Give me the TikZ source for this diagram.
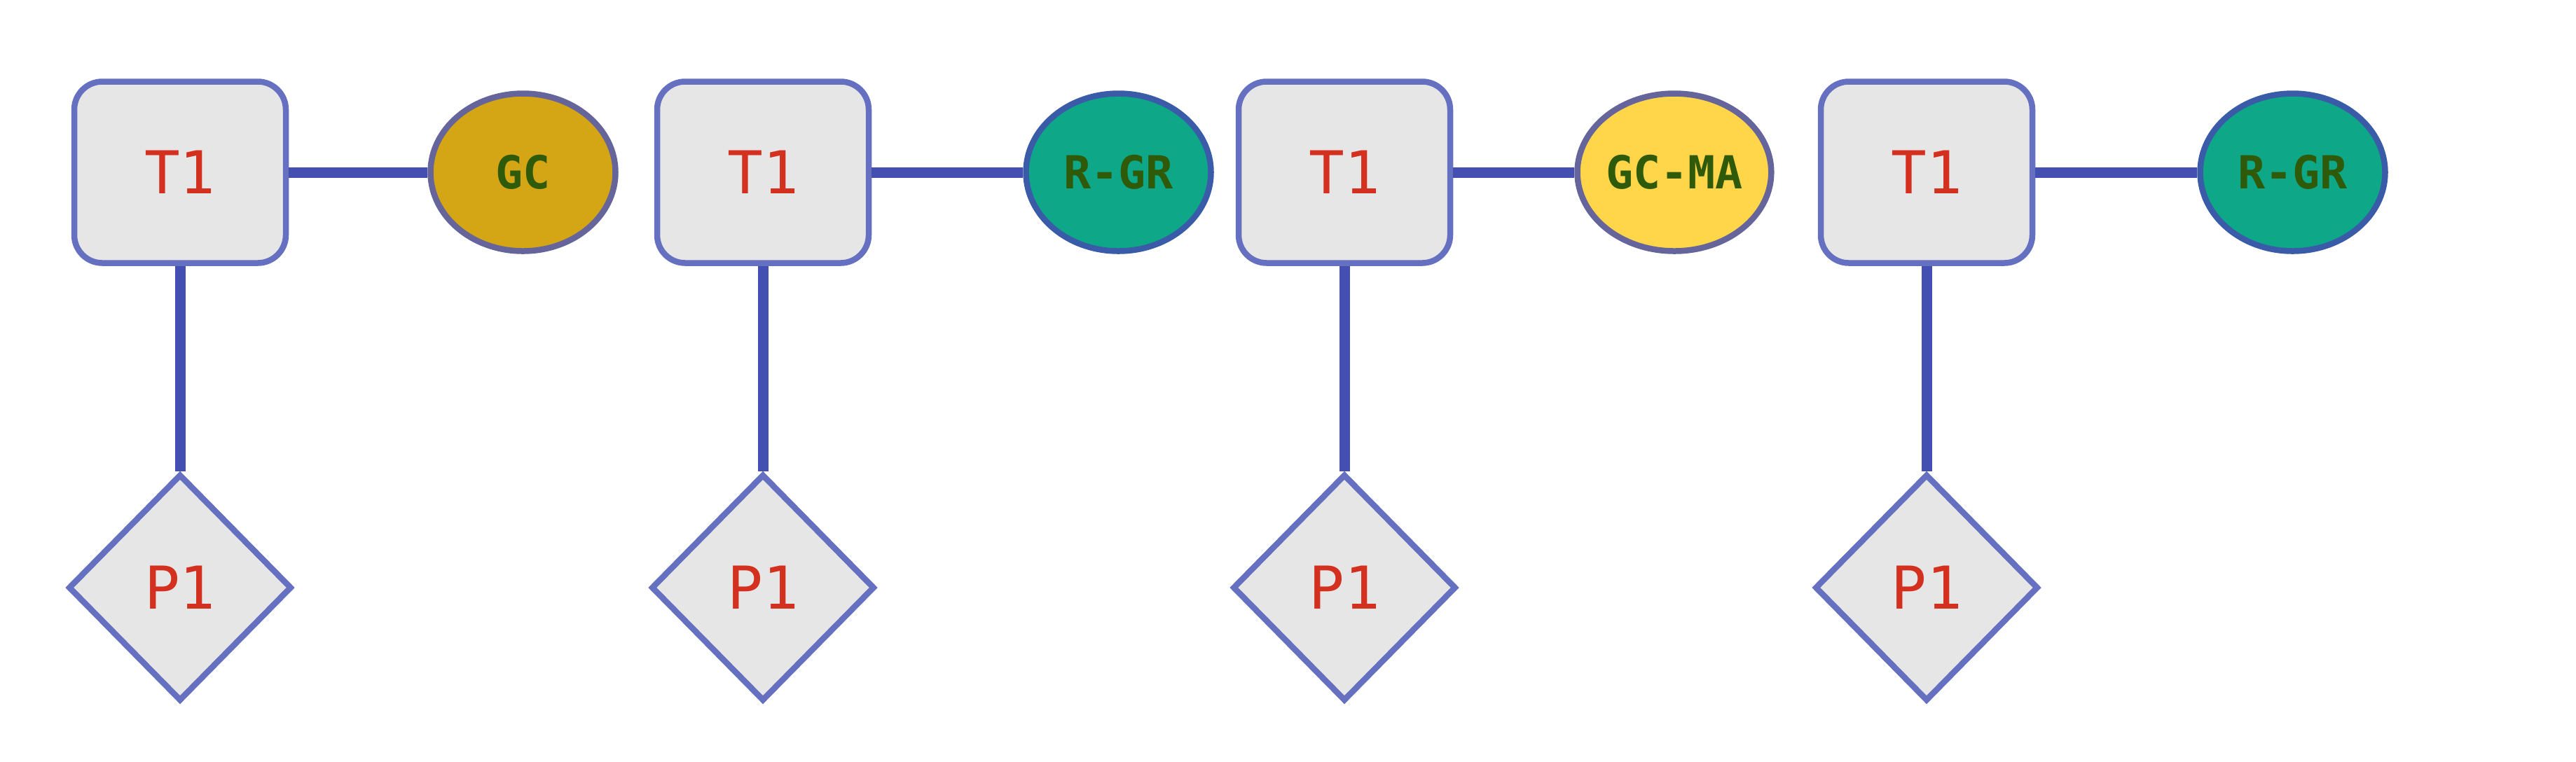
\documentclass[tikz,border=0pt]{standalone}
\usepackage{fontspec}
\usepackage{tikz}
\usetikzlibrary{positioning, shapes.geometric}
\newfontfamily\boxfont{DejaVu Sans Mono}
\newfontfamily\tagfont{DejaVu Sans Mono Bold}
\definecolor{boxfill}{HTML}{E6E6E6}
\definecolor{boxline}{HTML}{6570C0}
\definecolor{wire}{HTML}{4350B2}
\definecolor{redtxt}{HTML}{D33020}
\definecolor{greentxt}{HTML}{2E5A0A}
\definecolor{gold}{HTML}{D4A514}
\definecolor{teal}{HTML}{0EA888}
\definecolor{sun}{HTML}{FFD54A}
\definecolor{greyrim}{HTML}{65659C}
\definecolor{bluerim}{HTML}{3A5CA8}
\tikzset{
  tbox/.style  = {draw=boxline, fill=boxfill, rounded corners=0.4cm, line width=0.085cm,
                  minimum width=3.02cm, minimum height=2.59cm, inner sep=0pt,
                  text=redtxt, font=\boxfont\fontsize{24}{28}\selectfont},
  pbox/.style  = {diamond, draw=boxline, fill=boxfill, line width=0.085cm, aspect=1,
                  minimum width=3.19cm, minimum height=3.24cm, inner sep=0pt,
                  text=redtxt, font=\boxfont\fontsize{24}{28}\selectfont},
  tag/.style   = {ellipse, line width=0.085cm, minimum width=2.64cm, minimum height=2.25cm,
                  inner sep=0pt, text=greentxt, font=\tagfont\fontsize{18.5}{22}\selectfont},
  link/.style  = {draw=wire, line width=0.15cm},
}

\begin{document}
\begin{tikzpicture}[node distance=2.93cm and 2cm]
\useasboundingbox (0,0) rectangle (36.77,-10.87);
% group 1
\node[tbox] (t1) at (2.57,-2.46) {T1};
\node[tag, fill=gold, draw=greyrim, right=1.98cm of t1] (gc) {GC};
\node[pbox, below=of t1] (p1) {P1};
\draw[link] (t1)--(gc);
\draw[link] (t1)--(p1);
% group 2
\node[tbox] (t2) at (10.89,-2.46) {T1};
\node[tag, fill=teal, draw=bluerim, right=2.16cm of t2] (rgr) {R-GR};
\node[pbox, below=of t2] (p2) {P1};
\draw[link] (t2)--(rgr);
\draw[link] (t2)--(p2);
% group 3
\node[tbox] (t3) at (19.19,-2.46) {T1};
\node[tag, fill=sun, draw=greyrim, right=1.73cm of t3] (gcma) {GC-MA};
\node[pbox, below=of t3] (p3) {P1};
\draw[link] (t3)--(gcma);
\draw[link] (t3)--(p3);
% group 4
\node[tbox] (t4) at (27.50,-2.46) {T1};
\node[tag, fill=teal, draw=bluerim, right=2.31cm of t4] (rgr2) {R-GR};
\node[pbox, below=of t4] (p4) {P1};
\draw[link] (t4)--(rgr2);
\draw[link] (t4)--(p4);
\end{tikzpicture}
\end{document}
